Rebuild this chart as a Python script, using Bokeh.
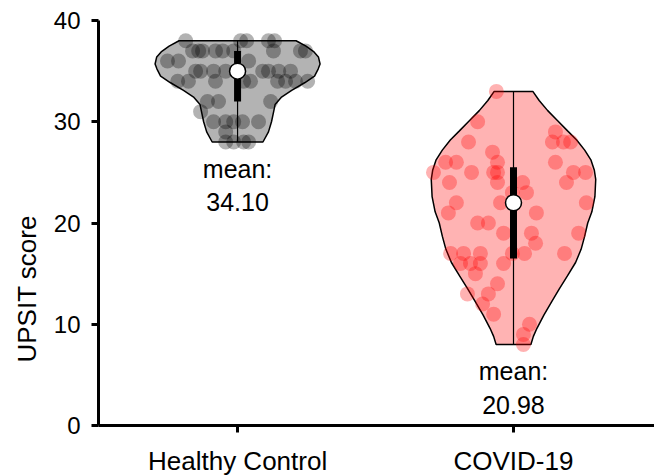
import numpy as np
from bokeh.plotting import figure
from bokeh.models import Range1d, FixedTicker, Title
from bokeh.embed import file_html
from bokeh.resources import INLINE
from bokeh.core.properties import value

# ---------------- data ----------------
categories = ["Healthy Control", "COVID-19"]
cat_pos = [0, 1]
means = [34.10, 20.98]
medians = [35, 22]
q1 = [32, 16.5]
q3 = [37, 25.5]
y_ticks = [0, 10, 20, 30, 40]

hc_scores = [38, 38, 38, 38, 38,
             37, 37, 37, 37, 37, 37, 37, 37, 37,
             36, 36, 36,
             35, 35, 35, 35, 35, 35, 35, 35,
             34, 34, 34, 34, 34, 34, 34, 34, 34,
             32, 32, 32,
             31,
             30, 30, 30, 30, 30,
             29,
             28, 28, 28, 28]
hc_jitter = [-0.188, 0.011, 0.033, 0.112, 0.134,
             -0.163, -0.141, -0.127, -0.080, -0.054, -0.014, 0.130, 0.228, 0.246,
             -0.254, -0.214, 0.040,
             -0.152, -0.134, -0.087, -0.043, 0.091, 0.112, 0.149, 0.192,
             -0.217, -0.178, -0.080, 0.022, 0.047, 0.145, 0.174, 0.210, 0.254,
             -0.109, -0.069, 0.120,
             -0.134,
             -0.087, -0.043, -0.014, 0.018, 0.076,
             -0.043,
             -0.043, -0.014, 0.022, 0.040]

cv_scores = [33, 30, 29, 28, 28, 28, 28, 27,
             26, 26, 26, 26,
             25, 25, 25, 25, 25, 25,
             24, 24, 24, 24,
             23, 23,
             22, 22, 22,
             21, 21,
             20, 20,
             19, 19, 19,
             18,
             17, 17, 17, 17, 17, 17,
             16, 16, 16, 16,
             15, 14, 13, 13, 12, 11, 10, 9, 8]
cv_jitter = [-0.062, -0.130, 0.152, -0.163, 0.141, 0.181, 0.207, -0.076,
             -0.058, -0.246, -0.207, 0.152,
             -0.290, -0.152, -0.072, -0.058, 0.217, 0.261,
             -0.232, -0.058, 0.192, 0.033,
             0.047, -0.004,
             -0.207, -0.047, 0.264,
             -0.236, 0.083,
             -0.130, -0.091,
             -0.036, 0.065, 0.236,
             0.080,
             -0.228, -0.181, -0.120, -0.004, 0.040, 0.185,
             -0.192, -0.156, -0.120, -0.036,
             -0.138, -0.058, -0.167, -0.091, -0.112, -0.072, 0.058, 0.036, 0.036]

# violin outline (score level, half width)
hc_profile_y = [38, 37.46, 36.9, 36.4, 35.7, 35.2, 34.5, 33.85, 33.1, 32.4, 31.7, 30.9, 30.0, 29.0, 28.0]
hc_profile_w = [0.212, 0.248, 0.277, 0.293, 0.299, 0.292, 0.279, 0.243, 0.196, 0.158, 0.136, 0.130, 0.123, 0.112, 0.092]
cv_profile_y = [33, 32.1, 31.1, 30.1, 29.1, 28.2, 27.2, 26.2, 25.2, 24.3, 22.6, 21.1, 20.0, 18.7,
                17.4, 16.1, 14.8, 13.5, 12.2, 10.9, 9.6, 8.8, 8.0]
cv_profile_w = [0.070, 0.093, 0.124, 0.160, 0.196, 0.229, 0.258, 0.281, 0.293, 0.298, 0.295, 0.284,
                0.269, 0.258, 0.245, 0.225, 0.196, 0.166, 0.138, 0.110, 0.085, 0.072, 0.063]

# ---------------- figure ----------------
FONT = "Liberation Sans"
p = figure(frame_width=556, frame_height=405, output_backend="svg", toolbar_location=None,
           x_range=Range1d(-0.504, 1.511), y_range=Range1d(0, 40),
           min_border_left=98, min_border_right=0, min_border_top=20, min_border_bottom=0)
p.outline_line_color = None
p.grid.grid_line_color = None
p.background_fill_color = "white"
p.border_fill_color = "white"

groups = [
    (hc_scores, hc_jitter, hc_profile_y, hc_profile_w, "#b3b3b3", "black"),
    (cv_scores, cv_jitter, cv_profile_y, cv_profile_w, "#ffb3b3", "red"),
]

for i, (scores, jit, py, pw, fill, ptcol) in enumerate(groups):
    c = cat_pos[i]
    py = np.array(py, dtype=float)
    pw = np.array(pw, dtype=float)
    xs = np.concatenate([c - pw, (c + pw)[::-1]])
    ys = np.concatenate([py, py[::-1]])
    p.patch(xs, ys, fill_color=fill, line_color="black", line_width=1.5)
    p.segment(x0=[c], y0=[min(scores)], x1=[c], y1=[max(scores)], line_color="black", line_width=1.2)
    p.scatter(x=c + np.array(jit), y=scores, size=15, fill_color=ptcol, fill_alpha=0.3,
              line_color=None)

for i in range(2):
    c = cat_pos[i]
    p.segment(x0=[c], y0=[q1[i]], x1=[c], y1=[q3[i]], line_color="black", line_width=7)
    p.scatter(x=[c], y=[medians[i]], size=16, fill_color="white", line_color="black", line_width=1.5)

mins = [min(hc_scores), min(cv_scores)]
p.text(x=cat_pos, y=[m - 4.3 for m in mins], text=["mean:\n%.2f" % m for m in means],
       text_align="center", text_baseline="middle", text_font=value(FONT),
       text_font_size="25px", text_color="black", text_line_height=1.2)

# axes
p.xaxis.ticker = FixedTicker(ticks=cat_pos)
p.xaxis.major_label_overrides = {0: categories[0], 1: categories[1]}
p.yaxis.ticker = FixedTicker(ticks=y_ticks)
for ax in (p.xaxis[0], p.yaxis[0]):
    ax.axis_line_width = 3
    ax.axis_line_color = "black"
    ax.major_tick_line_width = 3
    ax.major_tick_line_color = "black"
    ax.major_tick_out = 7
    ax.major_tick_in = 0
    ax.minor_tick_line_color = None
    ax.major_label_text_font = FONT
    ax.major_label_text_color = "black"
p.xaxis.major_label_text_font_size = "26px"
p.yaxis.major_label_text_font_size = "24px"
p.xaxis.major_label_standoff = 13
p.yaxis.major_label_standoff = 11

ylab = Title(text="UPSIT score", align="left", offset=63, standoff=17,
             text_font=FONT, text_font_size="26px", text_font_style="normal", text_color="black")
p.add_layout(ylab, "left")

open("out.html", "w").write(file_html(p, INLINE))
